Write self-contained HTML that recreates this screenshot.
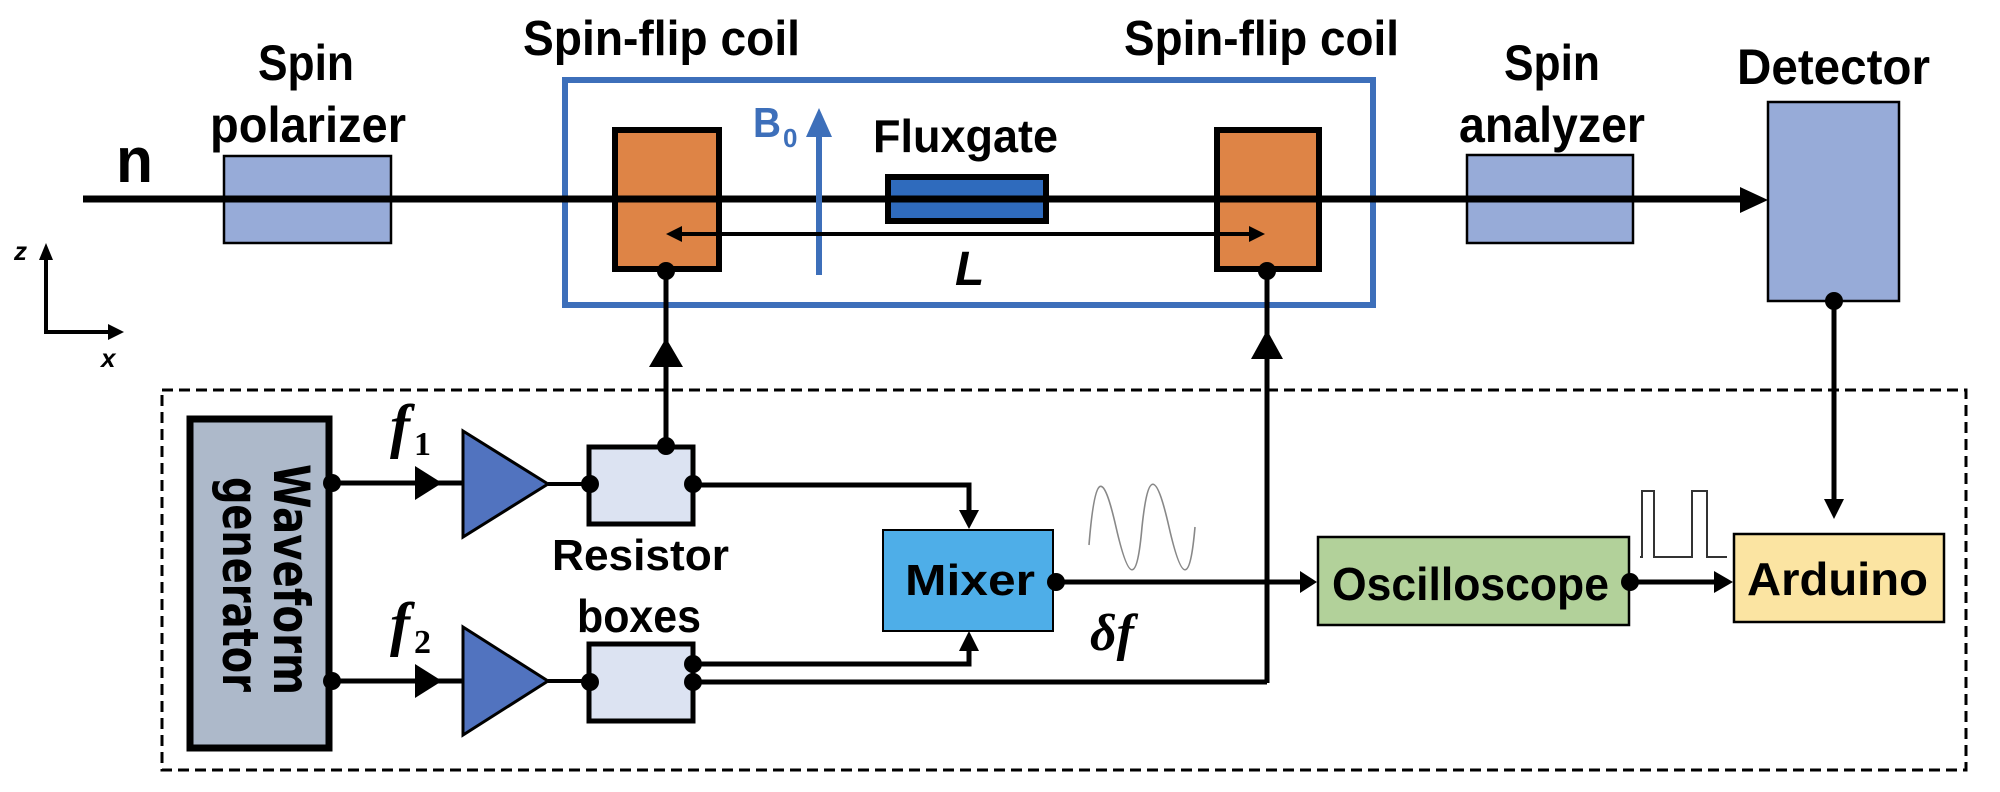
<!DOCTYPE html>
<html><head><meta charset="utf-8"><style>
html,body{margin:0;padding:0;background:#fff;}
svg{display:block;}
.lb{font-family:"Liberation Sans",sans-serif;font-weight:bold;fill:#000;}
.mi{font-family:"Liberation Serif",serif;font-style:italic;font-weight:bold;fill:#000;}
</style></head><body>
<svg width="2000" height="792" viewBox="0 0 2000 792" xmlns="http://www.w3.org/2000/svg">
<!-- top labels -->
<text class="lb" x="258" y="80" font-size="50" textLength="96" lengthAdjust="spacingAndGlyphs">Spin</text>
<text class="lb" x="210" y="142" font-size="50" textLength="196" lengthAdjust="spacingAndGlyphs">polarizer</text>
<text class="lb" x="523" y="55" font-size="49" textLength="277" lengthAdjust="spacingAndGlyphs">Spin-flip coil</text>
<text class="lb" x="1124" y="55" font-size="49" textLength="275" lengthAdjust="spacingAndGlyphs">Spin-flip coil</text>
<text class="lb" x="1504" y="80" font-size="50" textLength="96" lengthAdjust="spacingAndGlyphs">Spin</text>
<text class="lb" x="1459" y="142" font-size="50" textLength="186" lengthAdjust="spacingAndGlyphs">analyzer</text>
<text class="lb" x="1737" y="84" font-size="50" textLength="193" lengthAdjust="spacingAndGlyphs">Detector</text>
<text class="lb" x="873" y="152" font-size="46" textLength="185" lengthAdjust="spacingAndGlyphs">Fluxgate</text>
<text class="lb" x="116" y="182" font-size="64" textLength="37" lengthAdjust="spacingAndGlyphs">n</text>
<!-- blue frame -->
<rect x="565" y="80" width="808" height="225" fill="none" stroke="#3d6fba" stroke-width="6"/>
<!-- polarizer & analyzer & detector -->
<rect x="224" y="156" width="167" height="87" fill="#97abd8" stroke="#000" stroke-width="2.5"/>
<rect x="1467" y="155" width="166" height="88" fill="#97abd8" stroke="#000" stroke-width="2.5"/>
<rect x="1768" y="102" width="131" height="199" fill="#97abd8" stroke="#000" stroke-width="2.5"/>
<!-- coils -->
<rect x="615" y="130" width="104" height="139" fill="#de8446" stroke="#000" stroke-width="6"/>
<rect x="1217" y="130" width="102" height="139" fill="#de8446" stroke="#000" stroke-width="6"/>
<!-- fluxgate -->
<rect x="888" y="177" width="158" height="44" fill="#2f6bbd" stroke="#000" stroke-width="6"/>
<!-- beam -->
<line x1="83" y1="199" x2="1742" y2="199" stroke="#000" stroke-width="7"/>
<polygon points="1740,187 1768,200 1740,213" fill="#000"/>
<!-- B0 -->
<line x1="819" y1="275" x2="819" y2="130" stroke="#3d6fba" stroke-width="6"/>
<polygon points="806,137 819,108 832,137" fill="#3d6fba"/>
<text x="753" y="137" font-family="Liberation Sans,sans-serif" font-weight="bold" font-size="42" fill="#3d6fba" textLength="28" lengthAdjust="spacingAndGlyphs">B</text>
<text x="783" y="147" font-family="Liberation Sans,sans-serif" font-weight="bold" font-size="26" fill="#3d6fba">0</text>
<!-- L arrow -->
<line x1="678" y1="234" x2="1252" y2="234" stroke="#000" stroke-width="4"/>
<polygon points="666,234 682,226 682,242" fill="#000"/>
<polygon points="1265,234 1249,226 1249,242" fill="#000"/>
<text class="lb" x="955" y="285" font-size="48" font-style="italic">L</text>
<!-- axes -->
<line x1="46" y1="333" x2="46" y2="258" stroke="#000" stroke-width="4"/>
<polygon points="39,260 46,243 53,260" fill="#000"/>
<line x1="44" y1="332" x2="110" y2="332" stroke="#000" stroke-width="4"/>
<polygon points="108,324 124,332 108,340" fill="#000"/>
<text x="14" y="260" font-family="Liberation Sans,sans-serif" font-weight="bold" font-style="italic" font-size="26">z</text>
<text x="101" y="367" font-family="Liberation Sans,sans-serif" font-weight="bold" font-style="italic" font-size="26">x</text>
<!-- dashed box -->
<rect x="162" y="390" width="1804" height="380" fill="none" stroke="#000" stroke-width="3" stroke-dasharray="11,6"/>
<!-- coil wires -->
<line x1="666" y1="271" x2="666" y2="446" stroke="#000" stroke-width="5"/>
<polygon points="649,367 666,338 683,367" fill="#000"/>
<circle cx="666" cy="271" r="9"/>
<line x1="1267" y1="271" x2="1267" y2="683" stroke="#000" stroke-width="5"/>
<polygon points="1251,359 1267,330 1283,359" fill="#000"/>
<circle cx="1267" cy="271" r="9"/>
<!-- detector wire -->
<line x1="1834" y1="301" x2="1834" y2="502" stroke="#000" stroke-width="5"/>
<polygon points="1824,499 1834,519 1844,499" fill="#000"/>
<circle cx="1834" cy="301" r="9"/>
<!-- waveform generator -->
<rect x="190" y="419" width="139" height="329" fill="#adb9ca" stroke="#000" stroke-width="7"/>
<text transform="translate(274,464) rotate(90)" font-family="DejaVu Sans,sans-serif" font-weight="bold" font-size="50" textLength="231" lengthAdjust="spacingAndGlyphs">Waveform</text>
<text transform="translate(223,477) rotate(90)" font-family="DejaVu Sans,sans-serif" font-weight="bold" font-size="50" textLength="215" lengthAdjust="spacingAndGlyphs">generator</text>
<!-- f1 path -->
<line x1="332" y1="483" x2="462" y2="483" stroke="#000" stroke-width="5"/>
<polygon points="415,466 442,483 415,500" fill="#000"/>
<circle cx="332" cy="483" r="9"/>
<polygon points="463,431 548,484 463,537" fill="#5173bf" stroke="#000" stroke-width="3"/>
<line x1="548" y1="484" x2="590" y2="484" stroke="#000" stroke-width="4"/>
<rect x="589" y="447" width="104" height="77" fill="#dce3f2" stroke="#000" stroke-width="5"/>
<circle cx="590" cy="484" r="9"/><circle cx="693" cy="484" r="9"/><circle cx="666" cy="446" r="9"/>
<polyline points="693,485 969,485 969,512" fill="none" stroke="#000" stroke-width="5"/>
<polygon points="959,510 969,529 979,510" fill="#000"/>
<!-- f2 path -->
<line x1="332" y1="681" x2="462" y2="681" stroke="#000" stroke-width="5"/>
<polygon points="415,664 442,681 415,698" fill="#000"/>
<circle cx="332" cy="681" r="9"/>
<polygon points="463,627 548,681 463,735" fill="#5173bf" stroke="#000" stroke-width="3"/>
<line x1="548" y1="681" x2="590" y2="681" stroke="#000" stroke-width="4"/>
<rect x="589" y="644" width="104" height="77" fill="#dce3f2" stroke="#000" stroke-width="5"/>
<circle cx="590" cy="682" r="9"/><circle cx="693" cy="664" r="9"/><circle cx="693" cy="682" r="9"/>
<polyline points="693,664 969,664 969,648" fill="none" stroke="#000" stroke-width="5"/>
<polygon points="959,651 969,631 979,651" fill="#000"/>
<polyline points="693,682 1267,682" fill="none" stroke="#000" stroke-width="5"/>
<!-- labels -->
<text class="lb" x="552" y="570" font-size="44" textLength="177" lengthAdjust="spacingAndGlyphs">Resistor</text>
<text class="lb" x="577" y="632" font-size="46" textLength="124" lengthAdjust="spacingAndGlyphs">boxes</text>
<text class="mi" x="390" y="446" font-size="60">f</text>
<text x="414" y="455" font-family="Liberation Serif,serif" font-weight="bold" font-size="34">1</text>
<text class="mi" x="390" y="644" font-size="60">f</text>
<text x="414" y="653" font-family="Liberation Serif,serif" font-weight="bold" font-size="34">2</text>
<!-- mixer -->
<rect x="883" y="530" width="170" height="101" fill="#4eaee8" stroke="#000" stroke-width="2"/>
<text class="lb" x="905" y="595" font-size="44" textLength="130" lengthAdjust="spacingAndGlyphs">Mixer</text>
<line x1="1056" y1="582" x2="1302" y2="582" stroke="#000" stroke-width="5"/>
<polygon points="1300,571 1317,582 1300,593" fill="#000"/>
<circle cx="1056" cy="582" r="9"/>
<path d="M1089,545 C1095,470 1103,470 1116,527 C1129,584 1137,584 1142,527 C1148,470 1156,470 1169,527 C1182,584 1190,584 1195,527" fill="none" stroke="#888" stroke-width="1.6"/>
<text class="mi" x="1090" y="650" font-size="52">δf</text>
<!-- oscilloscope -->
<rect x="1318" y="537" width="311" height="88" fill="#b2d19a" stroke="#000" stroke-width="2.5"/>
<text class="lb" x="1332" y="600" font-size="46" textLength="277" lengthAdjust="spacingAndGlyphs">Oscilloscope</text>
<line x1="1630" y1="582" x2="1716" y2="582" stroke="#000" stroke-width="5"/>
<polygon points="1714,571 1733,582 1714,593" fill="#000"/>
<circle cx="1630" cy="582" r="9"/>
<polyline points="1640,557 1642,557 1642,491 1654,491 1654,557 1692,557 1692,491 1707,491 1707,557 1727,557" fill="none" stroke="#333" stroke-width="2"/>
<!-- arduino -->
<rect x="1734" y="534" width="210" height="88" fill="#fbe4a2" stroke="#000" stroke-width="2.5"/>
<text class="lb" x="1747" y="595" font-size="46" textLength="181" lengthAdjust="spacingAndGlyphs">Arduino</text>
</svg>
</body></html>
